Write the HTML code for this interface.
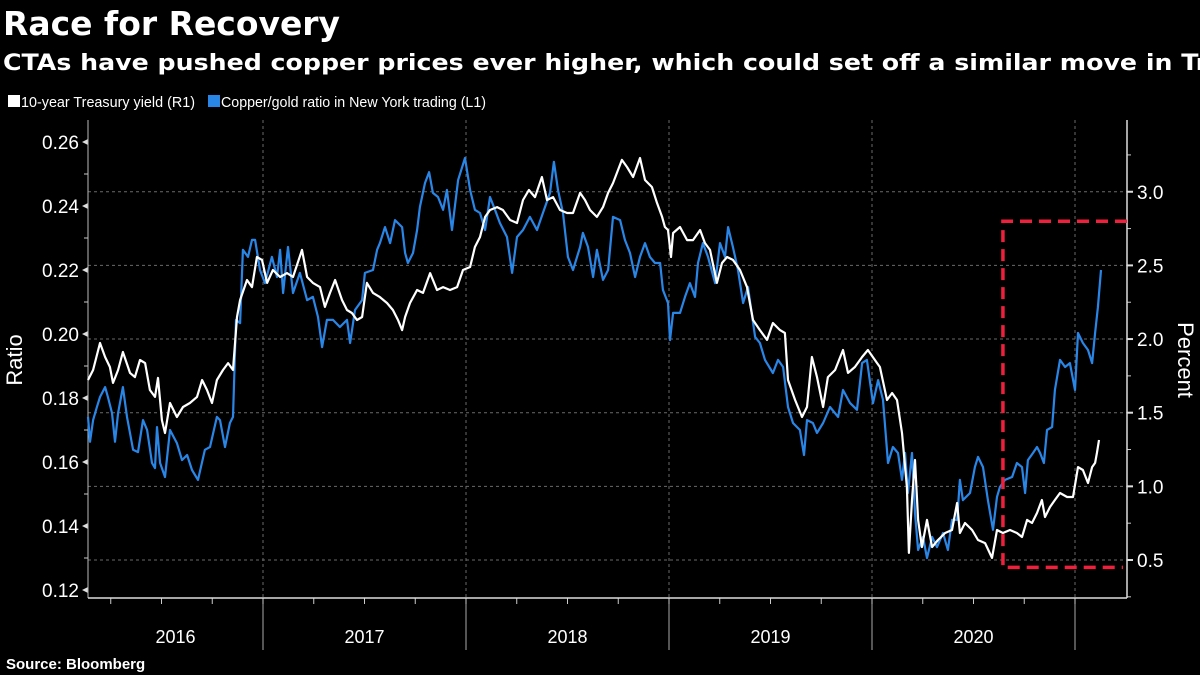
<!DOCTYPE html>
<html><head><meta charset="utf-8"><style>
html,body{margin:0;padding:0;background:#000;}
svg{display:block;font-family:"Liberation Sans",sans-serif;}
</style></head><body>
<svg id="chart" width="1200" height="675" viewBox="0 0 1200 675" xmlns="http://www.w3.org/2000/svg">
<rect width="1200" height="675" fill="#000"/>
<text x="3" y="35" fill="#fff" font-size="33" font-weight="bold" font-family="'DejaVu Sans',sans-serif" textLength="337" lengthAdjust="spacingAndGlyphs">Race for Recovery</text>
<text x="3" y="70" fill="#fff" font-size="22" font-weight="bold" font-family="'DejaVu Sans',sans-serif" textLength="1394" lengthAdjust="spacingAndGlyphs">CTAs have pushed copper prices ever higher, which could set off a similar move in Treasury yields</text>
<rect x="8" y="95" width="12" height="12" fill="#fff"/>
<text x="21" y="107" fill="#fff" font-size="15" textLength="174" lengthAdjust="spacingAndGlyphs">10-year Treasury yield (R1)</text>
<rect x="208" y="95" width="12" height="12" fill="#2a86e6"/>
<text x="221" y="107" fill="#fff" font-size="15" textLength="265" lengthAdjust="spacingAndGlyphs">Copper/gold ratio in New York trading (L1)</text>
<text transform="translate(22,360) rotate(-90)" text-anchor="middle" fill="#fff" font-size="22">Ratio</text>
<text transform="translate(1178,360) rotate(90)" text-anchor="middle" fill="#fff" font-size="22">Percent</text>
<text x="6" y="669" fill="#fff" font-size="15" font-weight="bold">Source: Bloomberg</text>
<g id="grid"></g><g id="axes"></g><g id="series"></g><g id="annot"></g>
</svg>
<script>
const yearTicks = [2017, 2018, 2019, 2020, 2021];
const yearLabels = ["2016", "2017", "2018", "2019", "2020"];
const leftTicks = [0.12, 0.14, 0.16, 0.18, 0.20, 0.22, 0.24, 0.26];
const rightTicks = [0.5, 1.0, 1.5, 2.0, 2.5, 3.0];
const boxRange = [2020.645, 0.45, 2.8];

const ratioDates = [2016.138,2016.148,2016.163,2016.182,2016.197,2016.222,2016.236,2016.256,2016.271,2016.286,2016.310,2016.330,2016.360,2016.384,2016.409,2016.429,2016.453,2016.468,2016.478,2016.493,2016.517,2016.542,2016.576,2016.601,2016.626,2016.650,2016.680,2016.714,2016.739,2016.773,2016.788,2016.813,2016.837,2016.852,2016.867,2016.887,2016.901,2016.926,2016.946,2016.961,2016.985,2017.010,2017.044,2017.069,2017.084,2017.099,2017.123,2017.148,2017.182,2017.217,2017.246,2017.271,2017.291,2017.315,2017.345,2017.379,2017.414,2017.429,2017.453,2017.488,2017.502,2017.542,2017.562,2017.576,2017.601,2017.626,2017.650,2017.685,2017.700,2017.714,2017.739,2017.759,2017.773,2017.798,2017.818,2017.837,2017.862,2017.887,2017.906,2017.931,2017.961,2017.995,2018.020,2018.044,2018.069,2018.094,2018.118,2018.143,2018.167,2018.202,2018.227,2018.251,2018.281,2018.315,2018.350,2018.379,2018.414,2018.433,2018.453,2018.478,2018.502,2018.527,2018.562,2018.576,2018.601,2018.626,2018.645,2018.675,2018.700,2018.724,2018.759,2018.783,2018.808,2018.833,2018.857,2018.882,2018.906,2018.931,2018.956,2018.970,2018.995,2019.005,2019.020,2019.054,2019.079,2019.103,2019.128,2019.143,2019.167,2019.192,2019.227,2019.251,2019.276,2019.291,2019.315,2019.340,2019.365,2019.389,2019.424,2019.448,2019.473,2019.512,2019.537,2019.562,2019.586,2019.611,2019.645,2019.665,2019.680,2019.709,2019.729,2019.759,2019.793,2019.833,2019.857,2019.892,2019.926,2019.951,2019.975,2020.005,2020.030,2020.054,2020.079,2020.103,2020.128,2020.148,2020.163,2020.177,2020.197,2020.212,2020.227,2020.251,2020.271,2020.296,2020.320,2020.350,2020.374,2020.394,2020.419,2020.433,2020.448,2020.483,2020.507,2020.522,2020.547,2020.571,2020.596,2020.616,2020.630,2020.655,2020.690,2020.714,2020.739,2020.754,2020.768,2020.793,2020.813,2020.828,2020.847,2020.862,2020.887,2020.901,2020.926,2020.951,2020.975,2021.000,2021.015,2021.039,2021.064,2021.084,2021.099,2021.113,2021.128];
const ratioValues = [0.1741,0.1663,0.1731,0.1772,0.1803,0.1834,0.1803,0.1753,0.1663,0.1753,0.1834,0.1741,0.1638,0.1631,0.1731,0.1700,0.1597,0.1581,0.1709,0.1597,0.1553,0.1700,0.1659,0.1606,0.1622,0.1575,0.1544,0.1638,0.1647,0.1741,0.1731,0.1647,0.1722,0.1741,0.2044,0.2034,0.2263,0.2241,0.2294,0.2294,0.2200,0.2159,0.2241,0.2178,0.2263,0.2128,0.2272,0.2128,0.2191,0.2106,0.2116,0.2053,0.1959,0.2044,0.2044,0.2022,0.2044,0.1972,0.2075,0.2106,0.2191,0.2200,0.2263,0.2284,0.2334,0.2284,0.2356,0.2334,0.2253,0.2222,0.2253,0.2325,0.2397,0.2472,0.2506,0.2441,0.2428,0.2388,0.2450,0.2325,0.2481,0.2550,0.2450,0.2388,0.2378,0.2325,0.2428,0.2388,0.2347,0.2303,0.2191,0.2303,0.2325,0.2366,0.2325,0.2378,0.2441,0.2538,0.2450,0.2378,0.2241,0.2200,0.2272,0.2316,0.2272,0.2178,0.2263,0.2169,0.2200,0.2366,0.2356,0.2294,0.2253,0.2178,0.2241,0.2284,0.2241,0.2222,0.2222,0.2138,0.2097,0.1981,0.2066,0.2066,0.2116,0.2159,0.2116,0.2222,0.2284,0.2241,0.2159,0.2284,0.2241,0.2334,0.2272,0.2200,0.2097,0.2147,0.1991,0.1972,0.1919,0.1878,0.1919,0.1897,0.1772,0.1722,0.1700,0.1622,0.1731,0.1722,0.1691,0.1722,0.1772,0.1741,0.1825,0.1784,0.1763,0.1909,0.1919,0.1784,0.1856,0.1794,0.1597,0.1647,0.1628,0.1544,0.1628,0.1503,0.1628,0.1441,0.1325,0.1366,0.1300,0.1366,0.1334,0.1378,0.1325,0.1419,0.1419,0.1544,0.1481,0.1503,0.1584,0.1616,0.1584,0.1481,0.1388,0.1491,0.1522,0.1544,0.1553,0.1597,0.1584,0.1503,0.1606,0.1628,0.1647,0.1628,0.1597,0.1700,0.1709,0.1825,0.1919,0.1897,0.1909,0.1825,0.2003,0.1972,0.1950,0.1909,0.2003,0.2084,0.2200];

const yieldDates = [2016.138,2016.163,2016.197,2016.222,2016.246,2016.261,2016.286,2016.310,2016.345,2016.369,2016.394,2016.419,2016.443,2016.468,2016.483,2016.502,2016.517,2016.542,2016.576,2016.606,2016.640,2016.675,2016.700,2016.724,2016.749,2016.773,2016.803,2016.828,2016.852,2016.872,2016.887,2016.921,2016.946,2016.970,2016.995,2017.020,2017.049,2017.084,2017.118,2017.148,2017.192,2017.217,2017.246,2017.281,2017.305,2017.330,2017.355,2017.389,2017.414,2017.438,2017.463,2017.488,2017.512,2017.542,2017.576,2017.611,2017.640,2017.665,2017.685,2017.700,2017.724,2017.759,2017.788,2017.823,2017.857,2017.887,2017.921,2017.956,2017.985,2018.020,2018.044,2018.069,2018.094,2018.118,2018.153,2018.182,2018.217,2018.251,2018.281,2018.310,2018.340,2018.374,2018.399,2018.429,2018.463,2018.498,2018.527,2018.562,2018.586,2018.611,2018.645,2018.675,2018.700,2018.724,2018.768,2018.793,2018.823,2018.857,2018.882,2018.916,2018.941,2018.966,2018.980,2018.995,2019.010,2019.020,2019.054,2019.089,2019.118,2019.153,2019.177,2019.202,2019.236,2019.261,2019.286,2019.315,2019.350,2019.384,2019.414,2019.448,2019.483,2019.512,2019.547,2019.571,2019.586,2019.621,2019.655,2019.680,2019.704,2019.729,2019.759,2019.783,2019.818,2019.857,2019.882,2019.916,2019.951,2019.980,2020.025,2020.039,2020.074,2020.099,2020.123,2020.148,2020.172,2020.182,2020.197,2020.212,2020.227,2020.246,2020.271,2020.296,2020.325,2020.360,2020.394,2020.419,2020.433,2020.458,2020.493,2020.522,2020.557,2020.591,2020.616,2020.645,2020.680,2020.714,2020.739,2020.764,2020.788,2020.813,2020.837,2020.852,2020.877,2020.901,2020.926,2020.961,2020.990,2021.015,2021.039,2021.064,2021.084,2021.099,2021.108,2021.118];
const yieldValues = [1.722,1.790,1.973,1.878,1.810,1.702,1.790,1.912,1.770,1.742,1.858,1.837,1.654,1.607,1.736,1.450,1.362,1.566,1.471,1.539,1.566,1.607,1.722,1.654,1.566,1.722,1.790,1.837,1.790,2.150,2.265,2.401,2.353,2.557,2.537,2.381,2.469,2.421,2.448,2.421,2.605,2.421,2.381,2.353,2.218,2.313,2.401,2.265,2.197,2.177,2.129,2.150,2.381,2.313,2.285,2.245,2.197,2.129,2.061,2.150,2.245,2.333,2.313,2.448,2.333,2.353,2.333,2.353,2.469,2.489,2.625,2.693,2.829,2.876,2.896,2.876,2.808,2.788,2.944,3.012,2.964,3.100,2.944,2.964,2.876,2.856,2.856,2.992,2.944,2.876,2.829,2.896,2.992,3.059,3.216,3.168,3.100,3.229,3.080,3.032,2.924,2.829,2.761,2.740,2.557,2.720,2.761,2.672,2.672,2.740,2.652,2.605,2.381,2.516,2.557,2.537,2.469,2.353,2.129,2.061,1.994,2.109,2.061,2.041,1.722,1.586,1.471,1.539,1.878,1.742,1.539,1.742,1.790,1.926,1.770,1.810,1.878,1.926,1.837,1.810,1.586,1.634,1.586,1.362,0.996,0.548,0.907,1.179,0.772,0.588,0.772,0.588,0.636,0.683,0.704,0.887,0.683,0.751,0.704,0.636,0.615,0.514,0.704,0.683,0.704,0.683,0.656,0.772,0.751,0.819,0.907,0.792,0.860,0.907,0.955,0.928,0.928,1.131,1.111,1.023,1.131,1.159,1.226,1.315];

const NS = "http://www.w3.org/2000/svg";
const L = 88, R = 1127, T = 120, B = 598;
function xScale(t){ return 263 + (t - 2017) * 203; }
function yLeft(v){ return 142 + (0.26 - v) * 3200; }
function yRight(v){ return 560 - (v - 0.5) * 147.3; }
function mk(tag, attrs, parent){
  const el = document.createElementNS(NS, tag);
  for (const k in attrs) el.setAttribute(k, attrs[k]);
  parent.appendChild(el); return el;
}
const grid = document.getElementById('grid'), axes = document.getElementById('axes'),
      series = document.getElementById('series'), annot = document.getElementById('annot');

rightTicks.forEach(v => {
  const y = yRight(v);
  const g = mk('line', {x1:L, x2:R, y1:y, y2:y, stroke:'#6a6a6a', 'stroke-width':1, 'stroke-dasharray':'3,3'}, grid);
  
  
  const tk = mk('line', {x1:R, x2:R+6, y1:y, y2:y, stroke:'#ddd', 'stroke-width':2}, axes);
  
  
  const tx = mk('text', {x:R+10, y:y+7, fill:'#fff', 'font-size':19}, axes);
  tx.textContent = v.toFixed(1);
  
  
  const mv = v + 0.25, my = yRight(mv);
  if (my > T) {
    const mt = mk('line', {x1:R, x2:R+4, y1:my, y2:my, stroke:'#ccc', 'stroke-width':1}, axes);
    
    
  }
});
const mt0 = mk('line', {x1:R, x2:R+4, y1:yRight(0.25), y2:yRight(0.25), stroke:'#ccc', 'stroke-width':1}, axes);



yearTicks.forEach(t => {
  const x = xScale(t);
  const g = mk('line', {x1:x, x2:x, y1:T, y2:B, stroke:'#6a6a6a', 'stroke-width':1, 'stroke-dasharray':'3,3'}, grid);
  
  
  const s = mk('line', {x1:x, x2:x, y1:B, y2:650, stroke:'#aaa', 'stroke-width':1}, axes);
  
  
});
for (let t = 2016.25; t < 2021.2; t += 0.25) {
  const x = xScale(t);
  if (x < L || x > R) continue;
  const q = mk('line', {x1:x, x2:x, y1:B, y2:B+6, stroke:'#ccc', 'stroke-width':1}, axes);
  
  
}
yearLabels.forEach((lab, i) => {
  const x0 = Math.max(L, xScale(2016 + i)), x1 = Math.min(R, xScale(2017 + i));
  const tx = mk('text', {x:(x0 + x1) / 2, y:643, fill:'#fff', 'font-size':18, 'text-anchor':'middle'}, axes);
  tx.textContent = lab;
  
  
});

leftTicks.forEach(v => {
  const y = yLeft(v);
  const tk = mk('path', {d:`M${L} ${y-3} L${L-6} ${y} L${L} ${y+3} Z`, fill:'#ddd'}, axes);
  
  
  const tx = mk('text', {x:L-9, y:y+7, fill:'#fff', 'font-size':19, 'text-anchor':'end'}, axes);
  tx.textContent = v.toFixed(2);
  
  
  const my = yLeft(v + 0.01);
  if (my > T) {
    const m = mk('line', {x1:L-4, x2:L, y1:my, y2:my, stroke:'#ccc', 'stroke-width':1}, axes);
    
    
  }
});

const la = mk('line', {x1:L, x2:L, y1:T, y2:B, stroke:'#bbb', 'stroke-width':1}, axes);


const ra = mk('line', {x1:R, x2:R, y1:T, y2:B, stroke:'#ddd', 'stroke-width':1.5}, axes);


const xa = mk('line', {x1:L, x2:R, y1:B, y2:B, stroke:'#ddd', 'stroke-width':1.5}, axes);



function pathFrom(dates, vals, ys){
  return dates.map((d, i) => (i ? 'L' : 'M') + xScale(d).toFixed(1) + ' ' + ys(vals[i]).toFixed(1)).join(' ');
}
const ratioLine = mk('path', {d:pathFrom(ratioDates, ratioValues, yLeft), fill:'none', stroke:'#2a86e6', 'stroke-width':2.2, 'stroke-linejoin':'round'}, series);


const yieldLine = mk('path', {d:pathFrom(yieldDates, yieldValues, yRight), fill:'none', stroke:'#ffffff', 'stroke-width':2.2, 'stroke-linejoin':'round'}, series);



const bx = xScale(boxRange[0]), byB = yRight(boxRange[1]), byT = yRight(boxRange[2]);
const box = mk('path', {d:`M${R} ${byT} L${bx} ${byT} L${bx} ${byB} L${R-4} ${byB}`, fill:'none', stroke:'#f0203c', 'stroke-width':3.5, 'stroke-dasharray':'12,7'}, annot);


</script>
</body></html>
